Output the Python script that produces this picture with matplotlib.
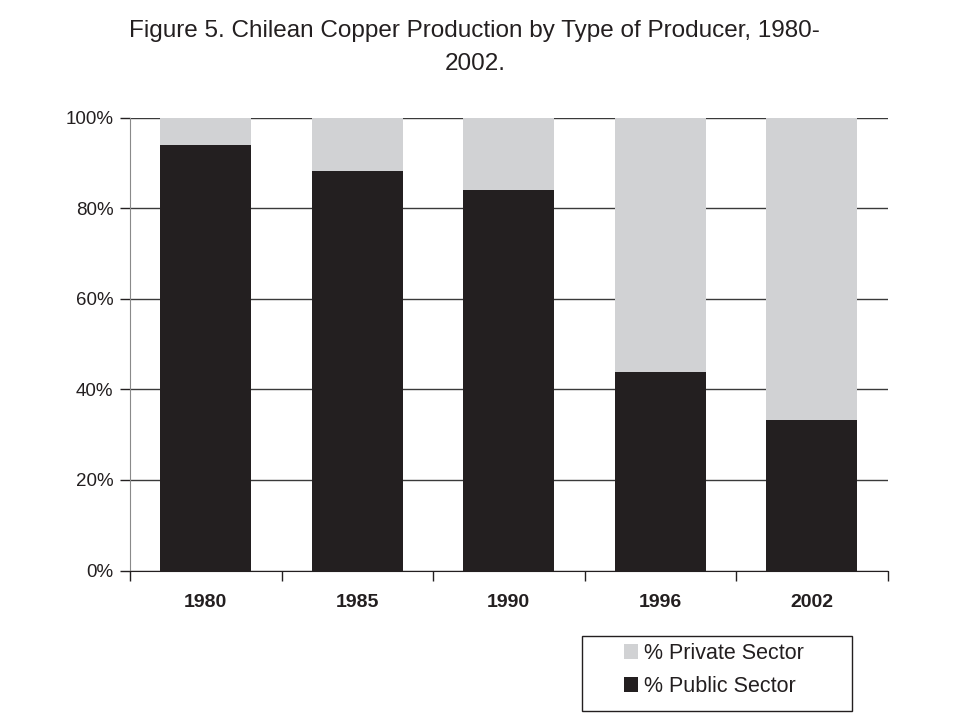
import matplotlib
matplotlib.use('Agg')

import matplotlib.pyplot as plt
import matplotlib.ticker as mticker
from matplotlib.patches import Rectangle
import numpy as np

# values (share of production, %)
years = ['1980', '1985', '1990', '1996', '2002']
public = [93.9, 88.2, 84.1, 43.8, 33.2]
private = [100 - p for p in public]

plt.rcParams['font.family'] = ['Liberation Sans', 'DejaVu Sans']

W, H = 963, 722
fig = plt.figure(figsize=(W / 100, H / 100), dpi=100)
ax = fig.add_axes([130 / W, 1 - 570.5 / H, 757.5 / W, 453 / H])

x = np.arange(len(years))
ax.bar(x, public, width=0.6, color='#231f20', label='% Public Sector', zorder=3)
ax.bar(x, private, width=0.6, bottom=public, color='#d1d2d4',
       label='% Private Sector', zorder=3)

ax.set_xlim(-0.5, len(years) - 0.5)
ax.set_ylim(0, 100)

# gridlines behind bars
ax.yaxis.set_major_locator(mticker.MultipleLocator(20))
ax.yaxis.set_major_formatter(mticker.FuncFormatter(lambda v, pos: f'{v:.0f}%'))
ax.grid(axis='y', color='#3a3a3a', linewidth=1, zorder=0)

# x ticks sit between categories, labels centred under bars
ax.set_xticks(np.arange(-0.5, len(years)))
ax.set_xticklabels([])
ax.set_xticks(x, minor=True)
ax.set_xticklabels(years, minor=True, fontsize=14, fontweight='bold')
ax.tick_params(axis='x', which='major', length=7, width=1, color='#231f20', direction='out')
ax.tick_params(axis='x', which='minor', length=0, pad=17, colors='#231f20')
ax.tick_params(axis='y', length=7, width=1, color='#231f20', labelsize=13.5,
               labelcolor='#231f20', pad=5)

for s in ['top', 'right']:
    ax.spines[s].set_visible(False)
ax.spines['left'].set_color('#8a8a8a')
ax.spines['bottom'].set_color('#231f20')

fig.text(0.493, 0.957, 'Figure 5. Chilean Copper Production by Type of Producer, 1980-',
         ha='center', va='center', fontsize=17.5, color='#231f20')
fig.text(0.493, 0.911, '2002.', ha='center', va='center', fontsize=17.5, color='#231f20')

# legend box drawn separately, entries inside (private first)
fig.patches.append(Rectangle((582 / W, 1 - 711 / H), 270 / W, 75 / H,
                             transform=fig.transFigure, fill=False,
                             edgecolor='#231f20', linewidth=1))
h, l = ax.get_legend_handles_labels()
leg = fig.legend(h[::-1], l[::-1], loc='center left',
                 bbox_to_anchor=(624 / W, 1 - 670 / H), ncol=1,
                 fontsize=15.5, frameon=False, handlelength=0.65,
                 handleheight=0.65, handletextpad=0.3, borderpad=0,
                 labelspacing=0.55, borderaxespad=0)
for t in leg.get_texts():
    t.set_color('#231f20')

plt.savefig('out.png', dpi=100)
